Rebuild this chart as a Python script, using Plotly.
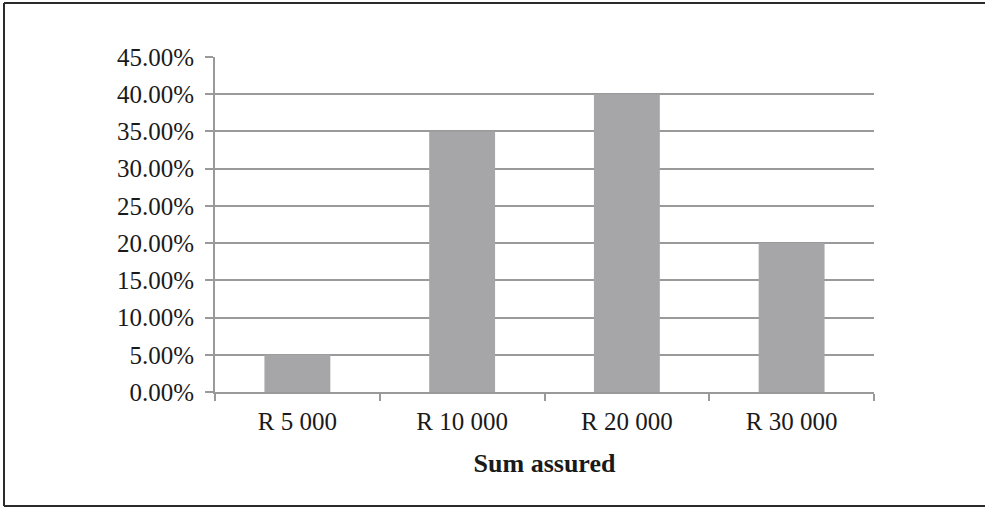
import plotly.graph_objects as go

categories = ["R 5 000", "R 10 000", "R 20 000", "R 30 000"]
shares = [0.05, 0.35, 0.40, 0.20]
y_ticks = [0.0, 0.05, 0.10, 0.15, 0.20, 0.25, 0.30, 0.35, 0.40, 0.45]
x_title = "Sum assured"

W, H = 985, 508
L, R, T, B = 215, 111, 57, 116
pw, ph = W - L - R, H - T - B

def px_x(x):
    return (x - L) / pw

def px_y(y):
    return (H - B - y) / ph

fig = go.Figure(
    go.Bar(
        x=categories,
        y=shares,
        marker=dict(color="#a6a6a8", line=dict(width=0)),
        hoverinfo="skip",
    )
)

font = dict(family="Liberation Serif, Times New Roman, serif", size=25, color="#1a1a1a")

frame_line = dict(color="#2a2a2a", width=2)
frame = [
    dict(type="line", xref="paper", yref="paper", x0=px_x(4), x1=px_x(985), y0=px_y(3), y1=px_y(3), line=frame_line),
    dict(type="line", xref="paper", yref="paper", x0=px_x(4), x1=px_x(985), y0=px_y(506), y1=px_y(506), line=frame_line),
    dict(type="line", xref="paper", yref="paper", x0=px_x(4), x1=px_x(4), y0=px_y(3), y1=px_y(506), line=frame_line),
]

fig.update_layout(
    width=W,
    height=H,
    margin=dict(l=L, r=R, t=T, b=B, pad=0),
    paper_bgcolor="white",
    plot_bgcolor="white",
    bargap=0.6,
    showlegend=False,
    font=font,
    xaxis=dict(
        title=dict(text="<b>" + x_title + "</b>", font=dict(size=26), standoff=20),
        showgrid=False,
        showline=True,
        linecolor="#9a9a9a",
        linewidth=2,
        ticks="outside",
        tickson="boundaries",
        ticklen=7,
        tickwidth=2,
        tickcolor="#9a9a9a",
        ticklabelstandoff=6,
    ),
    yaxis=dict(
        range=[0, 0.45],
        tickvals=y_ticks,
        tickformat=".2%",
        showgrid=True,
        gridcolor="#9a9a9a",
        gridwidth=2,
        showline=True,
        linecolor="#9a9a9a",
        linewidth=2,
        ticks="outside",
        ticklen=8,
        tickwidth=2,
        tickcolor="#9a9a9a",
        zeroline=False,
        ticklabelstandoff=6,
    ),
    shapes=frame,
)

fig.write_html(
    "out.html",
    config={"displayModeBar": False},
    post_script="document.body.style.margin='0';document.body.style.overflow='hidden';document.documentElement.style.overflow='hidden';",
)
